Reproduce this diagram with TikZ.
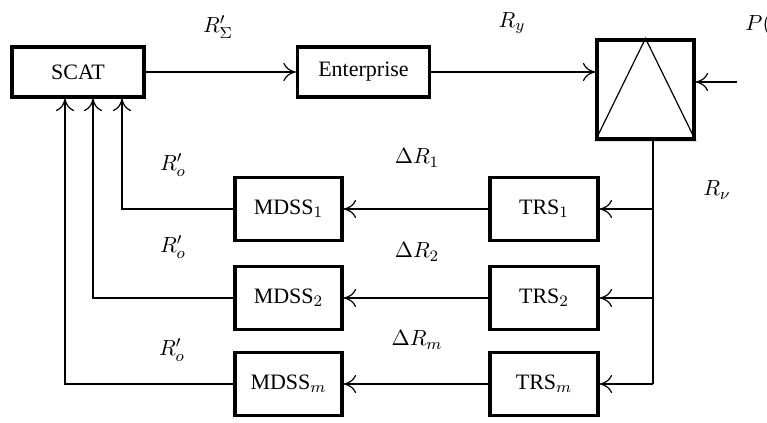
\documentclass[tikz,border=0pt]{standalone}
\usepackage{fontspec}
\setmainfont{Liberation Serif}
\usepackage{amsmath}
\usetikzlibrary{arrows.meta, positioning, calc}

\begin{document}
\begin{tikzpicture}[x=0.5pt, y=-0.5pt, font=\fontsize{11}{13}\selectfont,
  block/.style={rectangle, draw, line width=1.6pt, inner sep=0pt},
  wide/.style={block, minimum width=66pt, minimum height=25pt},
  unit/.style={block, minimum width=54pt, minimum height=31.5pt},
  arr/.style={-{To[length=2.2mm, width=3.2mm]}, semithick},
  lbl/.style={inner sep=0pt}]
  \useasboundingbox (0,0) rectangle (767,423);
  % top chain
  \node[wide] (scat) at (78,72) {SCAT};
  \node[wide] (ent) at (363.5,72) {Enterprise};
  \node[block, minimum width=48.5pt, minimum height=49.5pt] (tri) at (645.5,89.5) {};
  \draw[semithick] (tri.north) -- (tri.south west) -- (tri.south east) -- cycle;
  \draw[arr] (scat.east) -- (ent.west);
  \draw[arr] (ent.east) -- (ent.east -| tri.west);
  \coordinate (pin) at (737,82);
  \draw[arr] (pin) -- (pin -| tri.east);
  % channels
  \node[unit] (trs1) at (544,209) {TRS$_1$};
  \node[unit] (trs2) at (544,298) {TRS$_2$};
  \node[unit] (trsm) at (544,384) {TRS$_m$};
  \node[unit, minimum width=53.5pt] (mdss1) at (288.5,209) {MDSS$_1$};
  \node[unit, minimum width=53.5pt] (mdss2) at (288.5,298) {MDSS$_2$};
  \node[unit, minimum width=53.5pt] (mdssm) at (288.5,384) {MDSS$_m$};
  \coordinate (bus) at (653,384);
  \draw[semithick] (tri.south -| bus) -- (bus);
  \draw[arr] (trs1.east -| bus) -- (trs1.east);
  \draw[arr] (trs2.east -| bus) -- (trs2.east);
  \draw[arr] (bus) -- (trsm.east);
  \draw[arr] (trs1.west) -- (mdss1.east);
  \draw[arr] (trs2.west) -- (mdss2.east);
  \draw[arr] (trsm.west) -- (mdssm.east);
  % feedback to SCAT
  \draw[arr] (mdss1.west) -| ([xshift=22pt]scat.south);
  \draw[arr] (mdss2.west) -| ([xshift=7.5pt]scat.south);
  \draw[arr] (mdssm.west) -| ([xshift=-6.5pt]scat.south);
  % labels
  \node[lbl] (rs) at (218,27) {$R'_{\Sigma}$};
  \node[lbl] (ry) at (512,23) {$R_{y}$};
  \node[lbl, anchor=west] (pt) at (745,25) {$P(t)$};
  \node[lbl] (rv) at (717,190) {$R_{\nu}$};
  \node[lbl] (ro1) at (173,165) {$R'_o$};
  \node[lbl] (ro2) at (173,247) {$R'_o$};
  \node[lbl] (ro3) at (172,350) {$R'_o$};
  \node[lbl] (dr1) at (417,158) {$\Delta R_1$};
  \node[lbl] (dr2) at (417,252) {$\Delta R_2$};
  \node[lbl] (drm) at (417,340) {$\Delta R_m$};
\end{tikzpicture}
\end{document}
